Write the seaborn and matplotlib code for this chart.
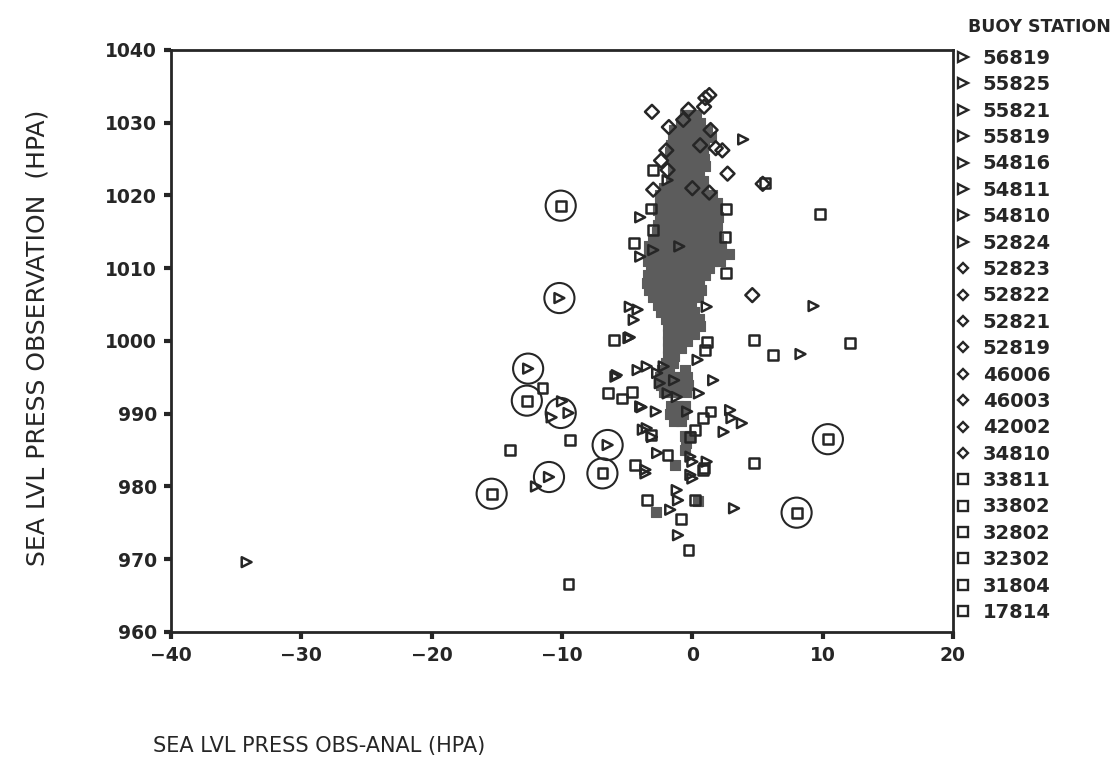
import matplotlib
matplotlib.use("Agg")
import matplotlib.pyplot as plt
from matplotlib.lines import Line2D
import pandas as pd
import seaborn as sns

# Buoy stations in legend order, grouped by plot symbol
tri_stations = ["56819", "55825", "55821", "55819", "54816", "54811", "54810", "52824"]
dia_stations = ["52823", "52822", "52821", "52819", "46006", "46003", "42002", "34810"]
sq_stations = ["33811", "33802", "32802", "32302", "31804", "17814"]

# Triangle stations: obs-anal (x) and observed pressure (y)
tri_x = [-34.2, -10.2, -12.6, -10.0, -9.5, -10.8, -12.0, -11.0, -6.5, -4.9,
         -5.9, -4.2, -3.5, -2.7, -2.2, -2.5, -1.4, -1.9, -1.2, -3.9,
         -2.8, -3.5, -3.1, -2.7, -3.6, -1.7, -1.1, -1.2, -1.1, 3.2,
         2.9, 3.0, 3.8, 2.4, -0.15, -0.15, 1.1, 1.6, 3.9, 9.3,
         8.3, -4.0, -1.9, -4.8, -4.2, -4.5, -4.8, -4.0, -3.0, -5.8,
         0.4, 0.5, 1.1, -4.0, -3.8, -3.6, 0.0, 0.0, -0.4, -1.0]
tri_y = [969.6, 1005.9, 996.2, 991.7, 990.1, 989.5, 980.0, 981.3, 985.7, 1000.4,
         995.1, 996.0, 996.5, 995.6, 996.5, 994.2, 994.6, 992.8, 992.3, 990.9,
         990.3, 988.0, 986.8, 984.6, 981.8, 976.8, 973.3, 979.5, 978.1, 977.0,
         990.5, 989.4, 988.7, 987.5, 984.1, 981.6, 983.4, 994.6, 1027.7, 1004.8,
         998.2, 1017.0, 1022.1, 1004.7, 1004.3, 1002.9, 1000.5, 1011.6, 1012.5, 995.3,
         997.4, 992.8, 1004.7, 991.0, 987.8, 982.3, 983.4, 981.1, 990.3, 1013.0]

# Diamond stations
dia_x = [-3.1, -1.8, -0.3, 1.0, 1.3, -2.0, -3.0, 1.4, 2.3, 2.7,
         1.3, 5.4, 4.6, 1.8, 0.6, -0.7, 0.0, -1.9, -2.4, 0.9]
dia_y = [1031.5, 1029.4, 1031.8, 1033.4, 1033.8, 1026.2, 1020.8, 1029.0, 1026.2, 1023.0,
         1020.4, 1021.6, 1006.3, 1026.5, 1026.9, 1030.4, 1021.0, 1023.5, 1024.8, 1032.2]

# Square stations
sq_x = [-9.5, -10.1, -12.7, -11.5, -9.4, -14.0, -15.4, -6.9, -6.0, -6.5,
        -5.4, -4.6, -1.9, -4.4, -3.5, -0.9, -0.3, 0.2, 4.7, 0.8,
        4.7, 6.2, 9.8, 12.1, 10.4, 8.0, 2.6, 2.6, 2.5, -3.0,
        -3.2, -3.0, -4.5, 1.1, 1.0, 1.4, 0.8, 0.2, -0.15, -3.2,
        0.9, 5.6]
sq_y = [966.6, 1018.6, 991.8, 993.5, 986.4, 985.0, 979.0, 981.8, 1000.1, 992.8,
        992.1, 993.0, 984.3, 983.0, 978.1, 975.5, 971.3, 978.1, 983.2, 982.3,
        1000.1, 998.1, 1017.5, 999.7, 986.5, 976.4, 1009.3, 1018.1, 1014.3, 1023.5,
        1018.2, 1015.3, 1013.5, 999.9, 998.8, 990.3, 989.4, 987.8, 986.8, 987.1,
        982.5, 1021.7]

# Densely over-plotted core of the scatter, read row by row
core_levels = [1031, 1030, 1029, 1028, 1027, 1026, 1025, 1024, 1023, 1022,
               1021, 1020, 1019, 1018, 1017, 1016, 1015, 1014, 1013, 1012,
               1011, 1010, 1009, 1008, 1007, 1006, 1005, 1004, 1003, 1002,
               1001, 1000, 999, 998, 997, 996, 995, 994, 993, 991,
               990, 989, 987, 986, 985, 983, 978, 976.5]
core_rows = [
    [-0.6, -0.1, 0.3],
    [-0.9, -0.4, 0.1, 0.6],
    [-1.4, -0.9, -0.4, 0.1, 0.6, 1.1],
    [-1.5, -1.0, -0.5, 0.0, 0.5, 1.0, 1.4],
    [-1.6, -1.1, -0.6, -0.1, 0.4, 0.9],
    [-1.7, -1.2, -0.7, -0.2, 0.3, 0.8],
    [-1.6, -1.1, -0.6, -0.1, 0.4, 0.9],
    [-1.5, -1.0, -0.5, 0.0, 0.5, 1.0],
    [-1.5, -1.0, -0.5, 0.0, 0.5],
    [-1.6, -1.1, -0.6, -0.1, 0.4, 0.8],
    [-2.2, -1.7, -1.2, -0.7, -0.2, 0.3, 0.8],
    [-2.5, -2.0, -1.5, -1.0, -0.5, 0.0, 0.5, 1.0, 1.5],
    [-2.5, -2.0, -1.5, -1.0, -0.5, 0.0, 0.5, 1.0, 1.5, 1.9],
    [-2.6, -2.1, -1.6, -1.1, -0.6, -0.1, 0.4, 0.9, 1.4, 1.9],
    [-2.5, -2.0, -1.5, -1.0, -0.5, 0.0, 0.5, 1.0, 1.5, 2.0],
    [-2.6, -2.1, -1.6, -1.1, -0.6, -0.1, 0.4, 0.9, 1.4, 1.9],
    [-2.7, -2.2, -1.7, -1.2, -0.7, -0.2, 0.3, 0.8, 1.3, 1.8],
    [-3.0, -2.5, -2.0, -1.5, -1.0, -0.5, 0.0, 0.5, 1.0, 1.5, 2.0],
    [-3.3, -2.8, -2.3, -1.8, -1.3, -0.8, -0.3, 0.2, 0.7, 1.2, 1.7, 2.2],
    [-3.3, -2.8, -2.3, -1.8, -1.3, -0.8, -0.3, 0.2, 0.7, 1.2, 1.7, 2.3, 2.8],
    [-3.4, -2.9, -2.4, -1.9, -1.4, -0.9, -0.4, 0.1, 0.6, 1.1, 1.6, 2.1],
    [-3.2, -2.7, -2.2, -1.7, -1.2, -0.7, -0.2, 0.3, 0.8, 1.3],
    [-3.4, -2.9, -2.4, -1.9, -1.4, -0.9, -0.4, 0.1, 0.6, 1.0],
    [-3.5, -3.0, -2.5, -2.0, -1.5, -1.0, -0.5, 0.0, 0.5],
    [-3.3, -2.8, -2.3, -1.8, -1.3, -0.8, -0.3, 0.2, 0.7],
    [-3.0, -2.5, -2.0, -1.5, -1.0, -0.5, 0.0, 0.4],
    [-2.6, -2.1, -1.6, -1.1, -0.6, -0.1],
    [-2.4, -1.9, -1.4, -0.9, -0.4, 0.1],
    [-2.0, -1.5, -1.0, -0.5, 0.0, 0.5],
    [-1.9, -1.4, -0.9, -0.4, 0.1, 0.6],
    [-1.9, -1.4, -0.9, -0.4, 0.1],
    [-1.9, -1.4, -0.9, -0.4],
    [-1.9, -1.4, -0.9],
    [-1.9, -1.4],
    [-2.0, -1.5],
    [-2.3, -1.8, -0.6],
    [-2.5, -2.0, -1.5, -1.0, -0.4],
    [-2.4, -1.9, -1.4, -0.9, -0.3],
    [-2.2, -1.7, -1.2, -0.5],
    [-1.6, -1.1, -0.6],
    [-1.7, -1.2, -0.7],
    [-1.4, -0.9],
    [-0.6, -0.2],
    [-0.5],
    [-0.6],
    [-1.3],
    [0.4],
    [-2.8],
]

# Reports flagged (circled) on the chart
flag_x = [-10.1, -10.2, -12.6, -12.7, -10.1, -11.0, -15.4, -6.5, -6.9, 10.4, 8.0]
flag_y = [1018.6, 1005.9, 996.2, 991.8, 990.1, 981.3, 979.0, 985.7, 981.8, 986.5, 976.4]

# Build tables
points = pd.DataFrame({
    "x": tri_x + dia_x + sq_x,
    "y": tri_y + dia_y + sq_y,
    "symbol": ["tri"] * len(tri_x) + ["dia"] * len(dia_x) + ["sq"] * len(sq_x),
})
core = pd.DataFrame(
    [(x, lvl) for lvl, row in zip(core_levels, core_rows) for x in row],
    columns=["x", "y"],
)
flags = pd.DataFrame({"x": flag_x, "y": flag_y})

symbol_markers = {"tri": ">", "dia": "D", "sq": "s"}
ink = "#262626"

sns.set_style("ticks")
plt.rcParams["font.family"] = ["DejaVu Sans"]

fig = plt.figure(figsize=(11.15, 7.76), dpi=100)
ax = fig.add_axes([0.1534, 0.1856, 0.7013, 0.75])

sns.scatterplot(
    data=core, x="x", y="y", marker="s", s=60,
    color="#5c5c5c", edgecolor="#5c5c5c", linewidth=0.8, legend=False, ax=ax,
)
sns.scatterplot(
    data=points, x="x", y="y", style="symbol", markers=symbol_markers,
    s=50, color=ink, facecolor="none", edgecolor=ink, linewidth=1.8,
    legend=False, ax=ax,
)
sns.scatterplot(
    data=flags, x="x", y="y", marker="o", s=470,
    color=ink, facecolor="none", edgecolor=ink, linewidth=1.5,
    legend=False, ax=ax,
)

ax.set_xlim(-40, 20)
ax.set_ylim(960, 1040)
ax.set_xticks(range(-40, 21, 10))
ax.set_yticks(range(960, 1041, 10))
for side in ["left", "bottom", "top", "right"]:
    ax.spines[side].set_linewidth(2.0)
    ax.spines[side].set_color(ink)
ax.tick_params(direction="out", length=5, width=3, color=ink,
               labelsize=13.5, labelcolor=ink, pad=5)
for lab in ax.get_xticklabels() + ax.get_yticklabels():
    lab.set_fontweight("semibold")

ax.set_xlabel("SEA LVL PRESS OBS-ANAL (HPA)", fontsize=15, color=ink, ha="left")
ax.xaxis.set_label_coords(-0.023, -0.178)
ax.set_ylabel("SEA LVL PRESS OBSERVATION  (HPA)", fontsize=18, color=ink)
ax.yaxis.set_label_coords(-0.155, 0.506)

# Legend: one entry per buoy station with its plot symbol
handles, labels = [], []
for symbol, stations in [("tri", tri_stations), ("dia", dia_stations), ("sq", sq_stations)]:
    for st in stations:
        handles.append(Line2D([], [], linestyle="none", marker=symbol_markers[symbol],
                              markersize=6.5 if symbol != "dia" else 5.5,
                              markerfacecolor="none", markeredgecolor=ink,
                              markeredgewidth=1.7))
        labels.append(st)
leg = fig.legend(handles, labels, loc="upper left",
                 bbox_to_anchor=(0.857, 0.937), frameon=False,
                 prop={"size": 14, "weight": "semibold"}, labelspacing=0.38,
                 handlelength=0.8, handletextpad=0.6, borderpad=0,
                 borderaxespad=0)
for t in leg.get_texts():
    t.set_color(ink)
fig.text(968 / 1115, 1 - 27 / 776, "BUOY STATION", fontsize=12.5,
         fontweight="semibold", color=ink, ha="left", va="center")

fig.savefig("out.png", dpi=100)
plt.close(fig)
